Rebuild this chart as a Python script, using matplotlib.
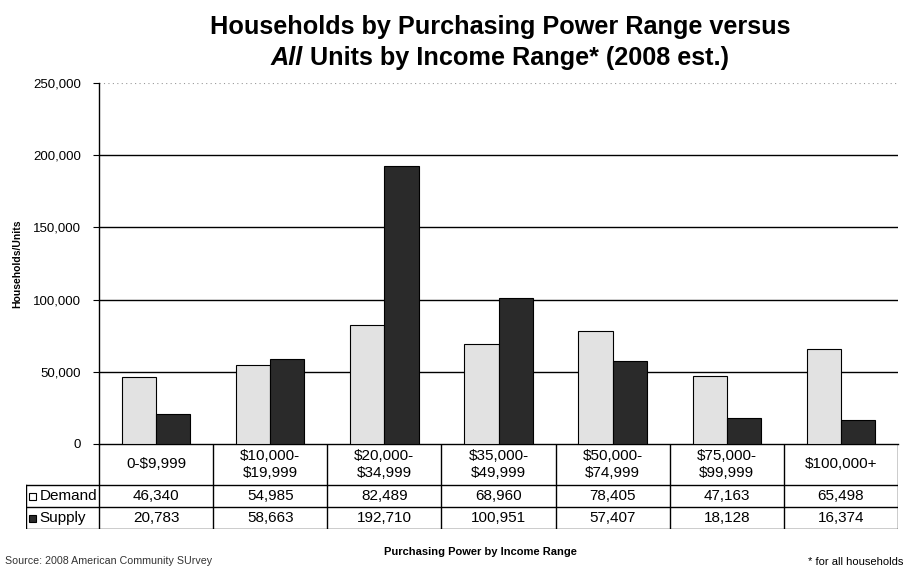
import matplotlib.pyplot as plt
import numpy as np

plt.rcParams['font.family'] = ['Liberation Sans', 'DejaVu Sans']

categories = ["0-$9,999", "$10,000-\n$19,999", "$20,000-\n$34,999", "$35,000-\n$49,999",
              "$50,000-\n$74,999", "$75,000-\n$99,999", "$100,000+"]
demand = [46340, 54985, 82489, 68960, 78405, 47163, 65498]
supply = [20783, 58663, 192710, 100951, 57407, 18128, 16374]
series_names = ["Demand", "Supply"]
yticks = [0, 50000, 100000, 150000, 200000, 250000]

W, H = 906, 571
fig = plt.figure(figsize=(W / 100, H / 100), dpi=100)

def fx(px):
    return px / W

def fy(py):
    return 1 - py / H

# plot area in pixels
left, right, top, bottom = 99, 898, 83, 444
ax = fig.add_axes([fx(left), fy(bottom), fx(right - left), fy(top) - fy(bottom)])

x = np.arange(len(categories))
bw = 0.3
light = "#e2e2e2"
dark = "#2a2a2a"
ax.bar(x - bw / 2, demand, bw, color=light, edgecolor="black", linewidth=0.8, zorder=3)
ax.bar(x + bw / 2, supply, bw, color=dark, edgecolor="black", linewidth=0.8, zorder=3)

ax.set_xlim(-0.5, len(categories) - 0.5)
ax.set_ylim(0, 250000)
ax.set_yticks(yticks)
ax.set_yticklabels([f"{v:,}" for v in yticks], fontsize=9.5)
ax.tick_params(axis="y", length=4, width=0.8, pad=9)
ax.set_xticks([])
for v in yticks[1:-1]:
    ax.axhline(v, color="black", linewidth=1.0, zorder=1)
ax.axhline(yticks[-1], color="#999999", linewidth=0.8, linestyle=(0, (1, 3)), zorder=1)
for s in ["top", "right"]:
    ax.spines[s].set_visible(False)
ax.spines["left"].set_linewidth(1.0)
ax.spines["bottom"].set_linewidth(1.0)

ax.set_ylabel("Households/Units", fontsize=7.5, fontweight="bold", labelpad=8)

# data table under the bars
tleft, tbot = 26, 529
rows = [444, 485, 507, 529]
tax = fig.add_axes([fx(tleft), fy(tbot), fx(right - tleft), fy(rows[0]) - fy(tbot)])
unit = (right - left) / len(categories)
tax.set_xlim(-0.5 - (left - tleft) / unit, len(categories) - 0.5)
tax.set_ylim(tbot, rows[0])
tax.axis("off")

lw = 1.0
for k in range(len(categories) + 1):
    tax.plot([k - 0.5, k - 0.5], [rows[0], tbot], color="black", lw=lw)
lab_left = -0.5 - (left - tleft) / unit
tax.plot([lab_left, lab_left], [rows[1], tbot], color="black", lw=lw)
for r in rows[1:]:
    tax.plot([lab_left, len(categories) - 0.5], [r, r], color="black", lw=lw)

for i, c in enumerate(categories):
    tax.text(i, (rows[0] + rows[1]) / 2, c, ha="center", va="center", fontsize=11,
             linespacing=1.2)
    tax.text(i, (rows[1] + rows[2]) / 2, f"{demand[i]:,}", ha="center", va="center", fontsize=11)
    tax.text(i, (rows[2] + rows[3]) / 2, f"{supply[i]:,}", ha="center", va="center", fontsize=11)

# row labels with legend keys
key_w = 0.06
for j, (name, col) in enumerate(zip(series_names, [light, dark])):
    yc = (rows[1 + j] + rows[2 + j]) / 2
    kx = lab_left + 0.03
    tax.add_patch(plt.Rectangle((kx, yc - 3.5), key_w, 7, facecolor=col if j else "white",
                                edgecolor="black", lw=0.8))
    tax.text(kx + key_w + 0.03, yc, name, ha="left", va="center", fontsize=11)

# title, second line has an italic first word
tsize = 18.2
cx = 500
fig.text(fx(cx), fy(27), "Households by Purchasing Power Range versus", ha="center", va="center",
         fontsize=tsize, fontweight="bold")
renderer = fig.canvas.get_renderer()
part1 = fig.text(0, fy(58), "All ", ha="left", va="center", fontsize=tsize,
                 fontweight="bold", fontstyle="italic")
part2 = fig.text(0, fy(58), "Units by Income Range* (2008 est.)", ha="left", va="center",
                 fontsize=tsize, fontweight="bold")
w1 = part1.get_window_extent(renderer).width
w2 = part2.get_window_extent(renderer).width
x0 = cx - (w1 + w2) / 2
part1.set_x(fx(x0))
part2.set_x(fx(x0 + w1))

fig.text(fx(480), fy(552), "Purchasing Power by Income Range", ha="center", va="center",
         fontsize=8, fontweight="bold")
fig.text(fx(5), fy(561), "Source: 2008 American Community SUrvey", ha="left", va="center",
         fontsize=7.7, color="#333333")
fig.text(fx(903), fy(562), "* for all households", ha="right", va="center", fontsize=8)

fig.savefig("out.png", dpi=100)
